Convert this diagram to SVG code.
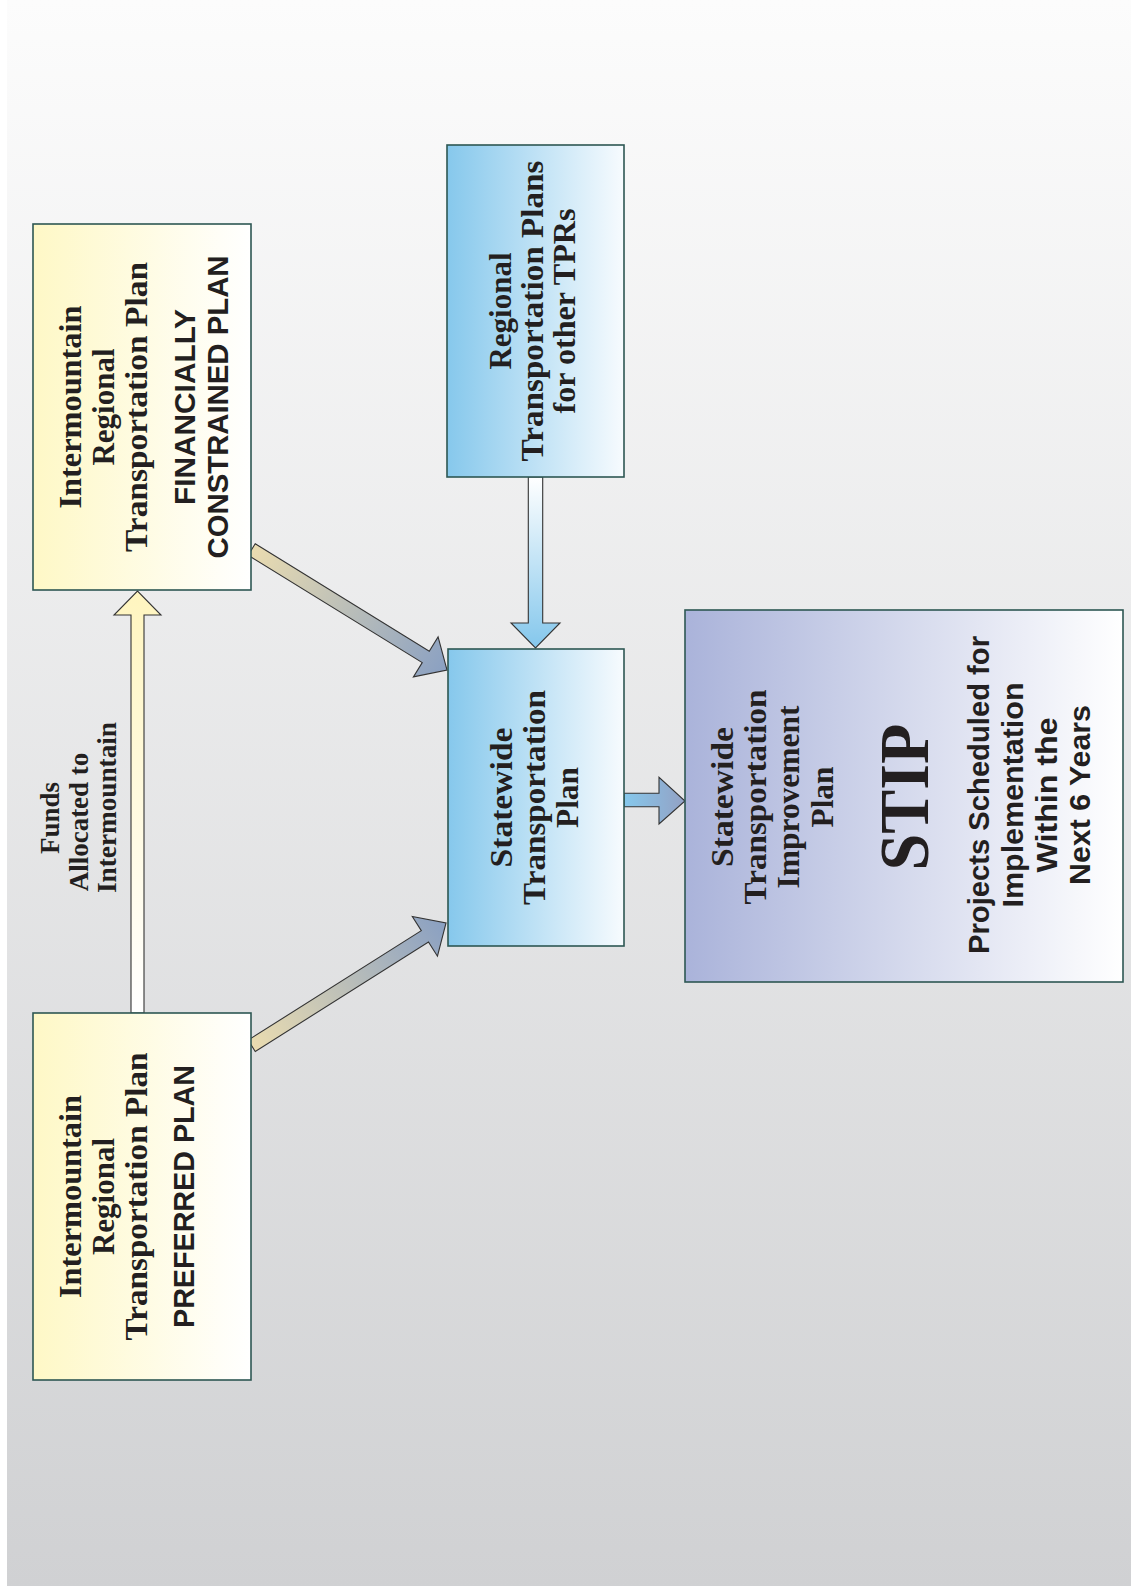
<svg xmlns="http://www.w3.org/2000/svg" width="1131" height="1588" viewBox="0 0 1131 1588">
<style>
.box{stroke:#2d5753;stroke-width:1.6}
.arr{stroke:#333;stroke-width:1.1}
.s{font-family:"Liberation Serif","Times New Roman",serif;font-weight:bold;fill:#231f20}
.ss{font-family:"Liberation Sans",Arial,sans-serif;font-weight:bold;fill:#231f20}
</style>
<defs>
<linearGradient id="bg" x1="0" y1="0" x2="0" y2="1"><stop offset="0" stop-color="#fcfcfc"/><stop offset="1" stop-color="#d0d1d3"/></linearGradient>
<linearGradient id="yel" x1="0" y1="0" x2="1" y2="0"><stop offset="0" stop-color="#fef8c6"/><stop offset="1" stop-color="#ffffff"/></linearGradient>
<linearGradient id="blu" x1="0" y1="0" x2="1" y2="0"><stop offset="0" stop-color="#86c8ec"/><stop offset="1" stop-color="#f7fbfe"/></linearGradient>
<linearGradient id="lav" x1="0" y1="0" x2="1" y2="0"><stop offset="0" stop-color="#aab3da"/><stop offset="1" stop-color="#ffffff"/></linearGradient>
<linearGradient id="ayel" x1="0" y1="1" x2="0" y2="0"><stop offset="0" stop-color="#ffffff"/><stop offset="1" stop-color="#fff5bf"/></linearGradient>
<linearGradient id="ablu" x1="0" y1="0" x2="0" y2="1"><stop offset="0" stop-color="#ffffff"/><stop offset="1" stop-color="#84c7ec"/></linearGradient>
<linearGradient id="adiag" x1="0" y1="0" x2="1" y2="0"><stop offset="0" stop-color="#eadcb0"/><stop offset="1" stop-color="#8aa0c2"/></linearGradient>
<linearGradient id="aright" x1="0" y1="0" x2="1" y2="0"><stop offset="0" stop-color="#86c8ec"/><stop offset="1" stop-color="#93a1c4"/></linearGradient>
</defs>
<rect x="7" y="0" width="1124" height="1586" fill="url(#bg)"/>

<g id="connectors">
  <path class="arr" fill="url(#ayel)" d="M131,1013 L131,615 L114,615 L137.5,591 L161,615 L144,615 L144,1013 Z"/>
  <path class="arr" fill="url(#ablu)" d="M528.3,477 L528.3,623 L511,623 L535.5,648 L560,623 L542.7,623 L542.7,477 Z"/>
  <path class="arr" fill="url(#aright)" d="M624,793.3 L659,793.3 L659,777.3 L685,801 L659,824 L659,806.7 L624,806.7 Z"/>
  <path class="arr" fill="url(#adiag)" transform="translate(251.7,549.5) rotate(31.67)" d="M0,-6.7 L204.5,-6.7 L204.5,-23.5 L229.5,0 L204.5,23.5 L204.5,6.7 L0,6.7 Z"/>
  <path class="arr" fill="url(#adiag)" transform="translate(251.7,1045.8) rotate(-32.3)" d="M0,-6.7 L204.9,-6.7 L204.9,-23.5 L229.9,0 L204.9,23.5 L204.9,6.7 L0,6.7 Z"/>
</g>

<g id="label-funds">
  <text class="s" font-size="27" text-anchor="middle" transform="translate(59,818) rotate(-90)">Funds</text>
  <text class="s" font-size="27" text-anchor="middle" transform="translate(88,822) rotate(-90)">Allocated to</text>
  <text class="s" font-size="27" text-anchor="middle" transform="translate(116,807.5) rotate(-90)" textLength="171" lengthAdjust="spacingAndGlyphs">Intermountain</text>
</g>

<g id="node-irtp-fc">
  <rect class="box" x="33" y="224" width="218" height="366" fill="url(#yel)"/>
  <g transform="translate(0,407) rotate(-90)" text-anchor="middle">
    <text class="s" font-size="31" x="0" y="81" textLength="203" lengthAdjust="spacingAndGlyphs">Intermountain</text>
    <text class="s" font-size="31" x="0" y="114" textLength="117" lengthAdjust="spacingAndGlyphs">Regional</text>
    <text class="s" font-size="31" x="0" y="147" textLength="290" lengthAdjust="spacingAndGlyphs">Transportation Plan</text>
    <text class="ss" font-size="29.5" x="0" y="195" textLength="196" lengthAdjust="spacingAndGlyphs">FINANCIALLY</text>
    <text class="ss" font-size="29.5" x="0" y="228" textLength="303" lengthAdjust="spacingAndGlyphs">CONSTRAINED PLAN</text>
  </g>
</g>

<g id="node-irtp-pref">
  <rect class="box" x="33" y="1013" width="218" height="367" fill="url(#yel)"/>
  <g transform="translate(0,1196.5) rotate(-90)" text-anchor="middle">
    <text class="s" font-size="31" x="0" y="81" textLength="203" lengthAdjust="spacingAndGlyphs">Intermountain</text>
    <text class="s" font-size="31" x="0" y="114" textLength="117" lengthAdjust="spacingAndGlyphs">Regional</text>
    <text class="s" font-size="31" x="0" y="147" textLength="288" lengthAdjust="spacingAndGlyphs">Transportation Plan</text>
    <text class="ss" font-size="29.5" x="0" y="194" textLength="263" lengthAdjust="spacingAndGlyphs">PREFERRED PLAN</text>
  </g>
</g>

<g id="node-rtp-other">
  <rect class="box" x="447" y="145" width="177" height="332" fill="url(#blu)"/>
  <g transform="translate(0,311) rotate(-90)" text-anchor="middle">
    <text class="s" font-size="31" x="0" y="511" textLength="117" lengthAdjust="spacingAndGlyphs">Regional</text>
    <text class="s" font-size="31" x="0" y="543" textLength="301" lengthAdjust="spacingAndGlyphs">Transportation Plans</text>
    <text class="s" font-size="31" x="0" y="575" textLength="205" lengthAdjust="spacingAndGlyphs">for other TPRs</text>
  </g>
</g>

<g id="node-stp">
  <rect class="box" x="448" y="649" width="176" height="297" fill="url(#blu)"/>
  <g transform="translate(0,797.5) rotate(-90)" text-anchor="middle">
    <text class="s" font-size="31" x="0" y="511.5" textLength="140" lengthAdjust="spacingAndGlyphs">Statewide</text>
    <text class="s" font-size="31" x="0" y="545" textLength="215" lengthAdjust="spacingAndGlyphs">Transportation</text>
    <text class="s" font-size="31" x="0" y="578" textLength="61" lengthAdjust="spacingAndGlyphs">Plan</text>
  </g>
</g>

<g id="node-stip">
  <rect class="box" x="685" y="610" width="438" height="372" fill="url(#lav)"/>
  <g transform="translate(0,797) rotate(-90)" text-anchor="middle">
    <text class="s" font-size="31" x="0" y="733" textLength="140" lengthAdjust="spacingAndGlyphs">Statewide</text>
    <text class="s" font-size="31" x="0" y="766" textLength="215" lengthAdjust="spacingAndGlyphs">Transportation</text>
    <text class="s" font-size="31" x="0" y="799" textLength="183" lengthAdjust="spacingAndGlyphs">Improvement</text>
    <text class="s" font-size="31" x="0" y="833" textLength="61" lengthAdjust="spacingAndGlyphs">Plan</text>
    <text class="s" font-size="70" x="0" y="928" textLength="147" lengthAdjust="spacingAndGlyphs">STIP</text>
  </g>
  <g transform="translate(0,795) rotate(-90)" text-anchor="middle">
    <text class="ss" font-size="29" x="0" y="989" textLength="318" lengthAdjust="spacingAndGlyphs">Projects Scheduled for</text>
    <text class="ss" font-size="29" x="0" y="1023" textLength="225" lengthAdjust="spacingAndGlyphs">Implementation</text>
    <text class="ss" font-size="29" x="0" y="1057" textLength="155" lengthAdjust="spacingAndGlyphs">Within the</text>
    <text class="ss" font-size="29" x="0" y="1090" textLength="180" lengthAdjust="spacingAndGlyphs">Next 6 Years</text>
  </g>
</g>
</svg>
